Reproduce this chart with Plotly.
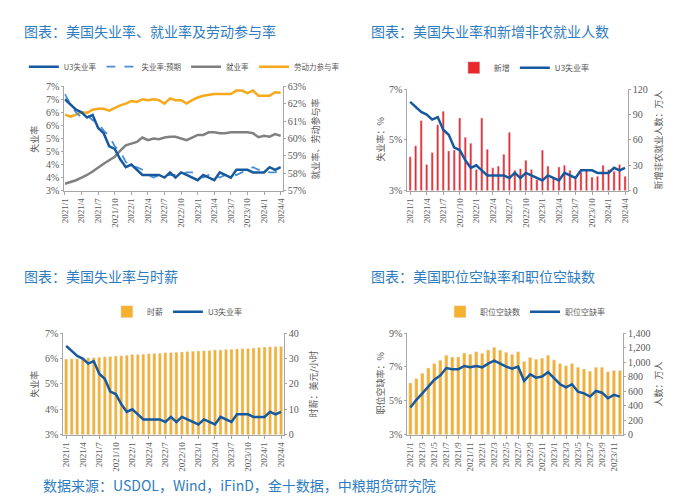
import plotly.graph_objects as go

# ---------------- data ----------------
months40 = [f"{2021 + i // 12}/{i % 12 + 1}" for i in range(40)]
months36 = months40[:36]
ticks40 = months40[::3]
ticks36 = months36[::2]

u3 = [6.5, 6.3, 6.1, 6.0, 5.8, 5.9, 5.4, 5.2, 4.7, 4.6, 4.2, 3.9,
      4.0, 3.8, 3.6, 3.6, 3.6, 3.6, 3.5, 3.7, 3.5, 3.7, 3.6, 3.5,
      3.4, 3.6, 3.5, 3.4, 3.7, 3.6, 3.5, 3.8, 3.8, 3.8, 3.7, 3.7,
      3.7, 3.9, 3.8, 3.9]
u3_expected = [6.7, 6.3, 6.0, 5.8, 5.9, 5.7, 5.6, 5.3, 5.1, 4.7, 4.5, 4.1,
               3.9, 3.9, 3.8, 3.6, 3.5, 3.6, 3.6, 3.6, 3.6, 3.6, 3.7, 3.7,
               3.6, 3.5, 3.6, 3.6, 3.5, 3.6, 3.6, 3.6, 3.7, 3.8, 3.9, 3.8,
               3.8, 3.7, 3.7, 3.8]
emp_ratio = [57.4, 57.5, 57.6, 57.75, 57.9, 58.1, 58.35, 58.55, 58.75, 58.95, 59.3, 59.6,
             59.7, 59.8, 60.05, 59.9, 60.0, 59.95, 60.05, 60.1, 60.1, 60.0, 59.9, 60.05,
             60.2, 60.2, 60.35, 60.35, 60.3, 60.3, 60.35, 60.35, 60.35, 60.35, 60.3, 60.07,
             60.15, 60.1, 60.25, 60.15]
lfpr = [61.37, 61.25, 61.37, 61.5, 61.47, 61.65, 61.7, 61.7, 61.6, 61.75, 61.9, 62.0,
        62.15, 62.1, 62.25, 62.2, 62.25, 62.2, 62.0, 62.3, 62.2, 62.2, 62.0, 62.2,
        62.35, 62.45, 62.5, 62.55, 62.55, 62.55, 62.55, 62.75, 62.75, 62.6, 62.75, 62.45,
        62.45, 62.45, 62.65, 62.63]
nfp_new = [40, 53, 83, 31, 45, 78, 94, 47, 48, 86, 63, 56,
           25, 86, 49, 27, 29, 43, 69, 24, 26, 36, 25, 13,
           48, 29, 15, 28, 30, 24, 14, 22, 24, 16, 17, 30,
           25, 23, 31, 17]
hourly_wage = [29.8, 29.9, 29.9, 30.2, 30.3, 30.4, 30.5, 30.7, 30.8, 31.0, 31.1, 31.3,
               31.6, 31.6, 31.7, 31.9, 32.0, 32.1, 32.3, 32.4, 32.5, 32.6, 32.8, 32.9,
               33.0, 33.1, 33.2, 33.4, 33.4, 33.6, 33.7, 33.8, 33.9, 34.0, 34.1, 34.3,
               34.5, 34.6, 34.7, 34.75]
job_openings = [713, 772, 848, 920, 982, 1027, 1095, 1072, 1072, 1126, 1108, 1144,
                1122, 1166, 1207, 1166, 1135, 1108, 1144, 1009, 1063, 1041, 1054, 1095,
                1032, 982, 951, 982, 929, 906, 875, 929, 929, 866, 884, 884]
openings_rate = [4.6, 5.06, 5.44, 5.83, 6.25, 6.5, 6.94, 6.87, 6.87, 7.06, 6.98, 7.06,
                 6.98, 7.2, 7.37, 7.2, 7.02, 6.9, 7.02, 6.17, 6.56, 6.37, 6.44, 6.69,
                 6.31, 5.98, 5.79, 5.98, 5.54, 5.44, 5.25, 5.58, 5.48, 5.15, 5.35, 5.25]

# ---------------- style ----------------
W, H = 694, 500
BLUE = "#16599f"
DASH_BLUE = "#4a8fd0"
ORANGE = "#f5a91b"
BAR_ORANGE = "#f4b02e"
GRAY = "#808080"
RED = "#e8282b"
TITLE_C = "#2f7dc1"
TXT = "#595959"
AX = "#a6a6a6"
CJK = "Noto Sans CJK SC"
SERIF = "Liberation Serif"


def px_x(a, b):
    return [a / W, b / W]


def px_y(top, bottom):
    return [1 - bottom / H, 1 - top / H]


fig = go.Figure()

# Panel 1 : x / y (right base), y2 (left overlay)
fig.add_trace(go.Scatter(x=months40, y=emp_ratio, name="就业率", mode="lines",
                         line=dict(color=GRAY, width=2.5), xaxis="x", yaxis="y",
                         legend="legend", legendrank=3))
fig.add_trace(go.Scatter(x=months40, y=lfpr, name="劳动力参与率", mode="lines",
                         line=dict(color=ORANGE, width=2.5), xaxis="x", yaxis="y",
                         legend="legend", legendrank=4))
fig.add_trace(go.Scatter(x=months40, y=u3_expected, name="失业率:预期", mode="lines",
                         line=dict(color=DASH_BLUE, width=1.8, dash="dash"), xaxis="x", yaxis="y2",
                         legend="legend", legendrank=2))
fig.add_trace(go.Scatter(x=months40, y=u3, name="U3失业率", mode="lines",
                         line=dict(color=BLUE, width=2.5), xaxis="x", yaxis="y2",
                         legend="legend", legendrank=1))

# Panel 2 : x2 / y3 (right base bars), y4 (left overlay line)
fig.add_trace(go.Bar(x=months40, y=nfp_new, name="新增", marker_color=RED, width=0.4,
                     xaxis="x2", yaxis="y3", legend="legend2"))
fig.add_trace(go.Scatter(x=months40, y=u3, name="U3失业率", mode="lines",
                         line=dict(color=BLUE, width=2.5), xaxis="x2", yaxis="y4", legend="legend2"))

# Panel 3 : x3 / y5 (right base bars), y6 (left overlay line)
fig.add_trace(go.Bar(x=months40, y=hourly_wage, name="时薪", marker_color=BAR_ORANGE, width=0.55,
                     xaxis="x3", yaxis="y5", legend="legend3"))
fig.add_trace(go.Scatter(x=months40, y=u3, name="U3失业率", mode="lines",
                         line=dict(color=BLUE, width=2.5), xaxis="x3", yaxis="y6", legend="legend3"))

# Panel 4 : x4 / y7 (right base bars), y8 (left overlay line)
fig.add_trace(go.Bar(x=months36, y=job_openings, name="职位空缺数", marker_color=BAR_ORANGE, width=0.55,
                     xaxis="x4", yaxis="y7", legend="legend4"))
fig.add_trace(go.Scatter(x=months36, y=openings_rate, name="职位空缺率", mode="lines",
                         line=dict(color=BLUE, width=2.5), xaxis="x4", yaxis="y8", legend="legend4"))


def xax(domain, anchor, tickvals, rng):
    return dict(domain=domain, anchor=anchor, type="category", tickvals=tickvals,
                ticktext=tickvals, tickangle=-90, range=rng,
                tickfont=dict(family=SERIF, size=9, color=TXT),
                showline=True, linecolor=AX, linewidth=1, ticks="outside", ticklen=3,
                tickcolor=AX, showgrid=False, zeroline=False, fixedrange=True)


def yax(domain, anchor, side, rng, tickvals, ticktext, overlaying=None):
    d = dict(domain=domain, anchor=anchor, side=side, range=rng, tickvals=tickvals,
             ticktext=ticktext, tickfont=dict(family=SERIF, size=10, color=TXT),
             showline=True, linecolor=AX, linewidth=1, ticks="outside", ticklen=2,
             tickcolor=AX, showgrid=False, zeroline=False, fixedrange=True)
    if overlaying:
        d["overlaying"] = overlaying
    return d


p1x, p1y = px_x(52, 273), px_y(74, 181)
p2x, p2y = px_x(399, 622), px_y(77, 181)
p3x, p3y = px_x(51, 274), px_y(327, 431)
p4x, p4y = px_x(399, 617), px_y(327, 431)

l1 = [3, 3.5, 4, 4.5, 5, 5.5, 6, 6.5, 7]
l1t = ["3%", "4%", "4%", "5%", "5%", "6%", "6%", "7%", "7%"]
r1 = [57, 58, 59, 60, 61, 62, 63]

layout = dict(
    width=W, height=H, margin=dict(l=0, r=0, t=0, b=0),
    paper_bgcolor="white", plot_bgcolor="white", bargap=0.4,
    xaxis=xax(p1x, "y", ticks40, [-0.1, 39.4]),
    yaxis=yax(p1y, "x", "right", [57, 63], r1, [f"{v}%" for v in r1]),
    yaxis2=yax(p1y, "x", "left", [3, 7], l1, l1t, overlaying="y"),
    xaxis2=xax(p2x, "y3", ticks40, [-0.5, 39.5]),
    yaxis3=yax(p2y, "x2", "right", [0, 120], [0, 30, 60, 90, 120], ["0", "30", "60", "90", "120"]),
    yaxis4=yax(p2y, "x2", "left", [3, 7], [3, 5, 7], ["3%", "5%", "7%"], overlaying="y3"),
    xaxis3=xax(p3x, "y5", ticks40, [-0.5, 39.5]),
    yaxis5=yax(p3y, "x3", "right", [0, 40], [0, 10, 20, 30, 40], ["0", "10", "20", "30", "40"]),
    yaxis6=yax(p3y, "x3", "left", [3, 7], [3, 4, 5, 6, 7], ["3%", "4%", "5%", "6%", "7%"], overlaying="y5"),
    xaxis4=xax(p4x, "y7", ticks36, [-0.5, 35.5]),
    yaxis7=yax(p4y, "x4", "right", [0, 1400], list(range(0, 1401, 200)),
               [f"{v:,}" for v in range(0, 1401, 200)]),
    yaxis8=yax(p4y, "x4", "left", [3, 9], [3, 5, 7, 9], ["3%", "5%", "7%", "9%"], overlaying="y7"),
)


def leg(x, y, size=8):
    return dict(x=x / W, y=1 - y / H, xanchor="left", yanchor="middle", orientation="h",
                font=dict(family=CJK, size=size, color=TXT), bgcolor="rgba(0,0,0,0)",
                itemwidth=30, traceorder="normal")


layout["legend"] = leg(11, 54, 7.5)
layout["legend2"] = leg(446, 55)
layout["legend3"] = leg(95, 305)
layout["legend4"] = leg(432, 305)

ann = []


def text(x, y, s, size, color, angle=0, xanchor="left", family=CJK):
    ann.append(dict(x=x / W, y=1 - y / H, xref="paper", yref="paper", text=s, showarrow=False,
                    xanchor=xanchor, yanchor="middle", textangle=angle,
                    font=dict(family=family, size=size, color=color)))


# titles
text(9, 17, "图表：美国失业率、就业率及劳动参与率", 14, TITLE_C)
text(360, 17, "图表：美国失业率和新增非农就业人数", 14, TITLE_C)
text(9, 268, "图表：美国失业率与时薪", 14, TITLE_C)
text(360, 268, "图表：美国职位空缺率和职位空缺数", 14, TITLE_C)
text(28, 483, "数据来源：USDOL，Wind，iFinD，金十数据，中粮期货研究院", 14, TITLE_C)

# axis titles
text(22, 128, "失业率", 9, TXT, angle=-90, xanchor="center")
text(306, 128, "就业率、劳动参与率", 9, TXT, angle=-90, xanchor="center")
text(372, 129, "失业率：%", 9, TXT, angle=-90, xanchor="center")
text(653, 129, "新增非农就业人数：万人", 9, TXT, angle=-90, xanchor="center")
text(22, 379, "失业率", 9, TXT, angle=-90, xanchor="center")
text(304, 379, "时薪：美元/小时", 9, TXT, angle=-90, xanchor="center")
text(372, 379, "职位空缺率：%", 9, TXT, angle=-90, xanchor="center")
text(653, 379, "人数：万人", 9, TXT, angle=-90, xanchor="center")

layout["annotations"] = ann
fig.update_layout(**layout)
fig.write_html("out.html")
